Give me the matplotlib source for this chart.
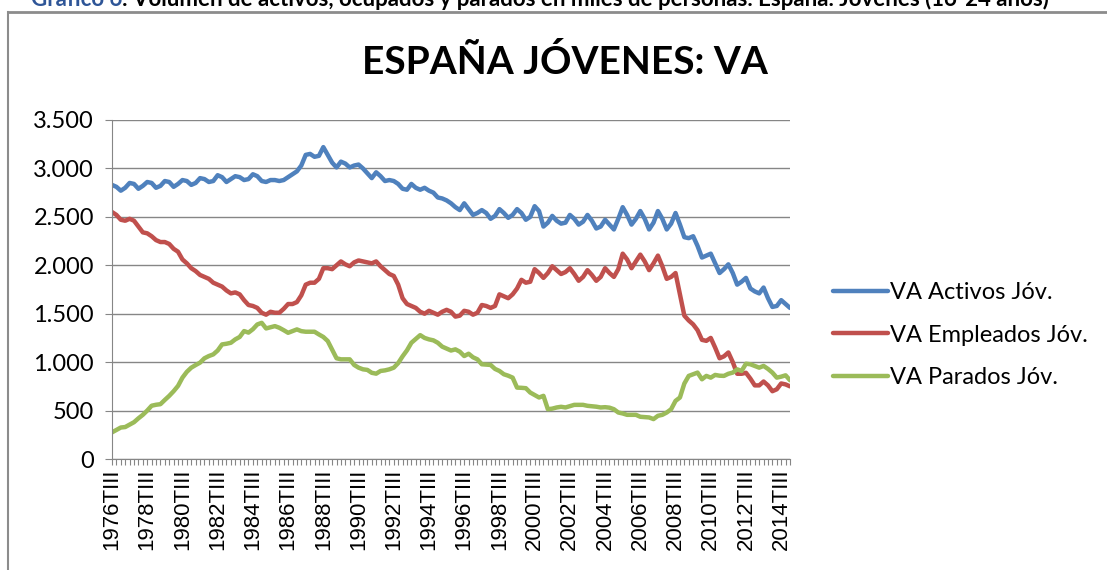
import matplotlib.pyplot as plt
from matplotlib.ticker import FuncFormatter
from matplotlib.lines import Line2D


# quarterly series, 1976TIII .. 2015TI (thousands of people)
activos = [
    2830, 2810, 2770, 2800, 2850, 2840, 2790, 2820, 2860, 2850, 2800, 2820,
    2870, 2860, 2810, 2840, 2880, 2870, 2830, 2850, 2900, 2890, 2860, 2870,
    2930, 2910, 2860, 2890, 2920, 2910, 2880, 2890, 2940, 2920, 2870, 2860,
    2880, 2880, 2870, 2880, 2910, 2940, 2970, 3030, 3140, 3150, 3120, 3130,
    3220, 3140, 3060, 3010, 3070, 3050, 3010, 3030, 3040, 3000, 2950, 2900,
    2960, 2920, 2870, 2880, 2870, 2840, 2790, 2780, 2840, 2800, 2780, 2800,
    2770, 2750, 2700, 2690, 2670, 2640, 2600, 2570, 2640, 2580, 2520, 2540,
    2570, 2540, 2480, 2510, 2580, 2540, 2490, 2520, 2580, 2540, 2470, 2500,
    2610, 2560, 2400, 2440, 2510, 2460, 2430, 2440, 2520, 2480, 2420, 2450,
    2520, 2460, 2380, 2400, 2470, 2420, 2370, 2480, 2600, 2520, 2420, 2480,
    2560, 2480, 2370, 2440, 2560, 2480, 2370, 2430, 2540, 2420, 2290, 2280,
    2300, 2200, 2080, 2100, 2120, 2020, 1920, 1960, 2010, 1920, 1800, 1830,
    1870, 1760, 1730, 1710, 1770, 1660, 1570, 1580, 1640, 1600, 1560,
]

empleados = [
    2550, 2520, 2470, 2460, 2480, 2460, 2400, 2340, 2330, 2300, 2260, 2240,
    2240, 2220, 2170, 2140, 2060, 2020, 1970, 1940, 1900, 1880, 1860, 1820,
    1800, 1780, 1740, 1710, 1720, 1700, 1640, 1590, 1580, 1560, 1510, 1490,
    1520, 1510, 1510, 1550, 1600, 1600, 1620, 1690, 1800, 1820, 1820, 1860,
    1970, 1970, 1960, 2000, 2040, 2010, 1990, 2030, 2050, 2040, 2030, 2020,
    2040, 1990, 1950, 1910, 1890, 1800, 1660, 1600, 1580, 1560, 1520, 1500,
    1530, 1510, 1490, 1520, 1540, 1520, 1470, 1480, 1530, 1520, 1490, 1510,
    1590, 1580, 1560, 1580, 1700, 1680, 1660, 1700, 1760, 1850, 1820, 1830,
    1960, 1920, 1870, 1920, 1990, 1950, 1910, 1930, 1970, 1910, 1840, 1880,
    1950, 1900, 1840, 1880, 1970, 1920, 1880, 1960, 2120, 2060, 1970, 2040,
    2110, 2040, 1950, 2020, 2100, 1990, 1860, 1880, 1920, 1700, 1480, 1430,
    1390, 1330, 1230, 1220, 1250, 1150, 1040, 1060, 1100, 1000, 880, 880,
    890, 830, 760, 760, 800, 760, 700, 720, 780, 770, 750,
]

parados = [
    275, 300, 325, 330, 355, 380, 420, 456, 500, 550, 560, 566,
    610, 652, 700, 755, 840, 900, 943, 970, 995, 1040, 1063, 1080,
    1120, 1183, 1190, 1200, 1235, 1260, 1321, 1305, 1340, 1389, 1406, 1348,
    1360, 1372, 1355, 1330, 1303, 1320, 1338, 1320, 1314, 1314, 1314, 1286,
    1260, 1218, 1130, 1040, 1029, 1029, 1029, 971, 943, 926, 920, 890,
    881, 909, 915, 926, 943, 990, 1060, 1122, 1200, 1240, 1279, 1250,
    1235, 1225, 1200, 1160, 1140, 1120, 1132, 1108, 1063, 1087, 1050, 1029,
    978, 975, 971, 930, 909, 875, 860, 840, 737, 735, 731, 686,
    660, 635, 652, 514, 520, 532, 539, 532, 545, 559, 559, 559,
    549, 545, 540, 532, 535, 530, 514, 480, 470, 456, 456, 456,
    436, 432, 429, 412, 446, 456, 480, 514, 600, 635, 779, 858,
    875, 892, 823, 858, 840, 868, 860, 858, 880, 892, 926, 909,
    984, 978, 960, 943, 961, 930, 892, 840, 850, 864, 813,
]

tick_labels = [
    "1976TIII", "1978TIII", "1980TIII", "1982TIII", "1984TIII",
    "1986TIII", "1988TIII", "1990TIII", "1992TIII", "1994TIII",
    "1996TIII", "1998TIII", "2000TIII", "2002TIII", "2004TIII",
    "2006TIII", "2008TIII", "2010TIII", "2012TIII", "2014TIII",
]

series_names = ["VA Activos Jóv.", "VA Empleados Jóv.", "VA Parados Jóv."]
colors = ["#4F81BD", "#C0504D", "#9BBB59"]


W, H = 1107, 570
fig = plt.figure(figsize=(W / 100, H / 100), dpi=100)
ax = fig.add_axes([112 / W, 1 - 459 / H, (790 - 112) / W, (459 - 120) / H])

x = list(range(len(activos)))
for vals, name, col in zip([activos, empleados, parados], series_names, colors):
    ax.plot(x, vals, color=col, lw=3.2, label=name,
            solid_joinstyle="round", solid_capstyle="round")

ax.set_xlim(0, len(activos) - 1)
ax.set_ylim(0, 3500)
ax.set_yticks(range(0, 3501, 500))
ax.yaxis.set_major_formatter(FuncFormatter(lambda v, p: f"{int(v):,}".replace(",", ".")))
ax.grid(axis="y", color="#868686", lw=1)
ax.set_axisbelow(True)

for s in ["top", "right"]:
    ax.spines[s].set_visible(False)
for s in ["left", "bottom"]:
    ax.spines[s].set_color("#868686")

labels = [""] * len(activos)
for k, t in enumerate(tick_labels):
    labels[8 * k] = t
ax.set_xticks(x)
ax.set_xticklabels(labels, rotation=90, fontfamily="Liberation Sans", fontsize=16)
ax.tick_params(axis="x", length=4, color="#868686", pad=3)
ax.tick_params(axis="y", length=5, color="#868686", pad=8, labelsize=17)
for lab in ax.get_yticklabels():
    lab.set_fontfamily("Lato")

fig.text(565 / W, 1 - 62 / H, "ESPAÑA JÓVENES: VA", ha="center", va="center",
         fontsize=28, fontweight="bold", fontfamily="Lato")

# caption above the chart, cut by the top edge as in the source
fig.text(122 / W, 1 - 6 / H, "Gráfico 6", color="#2E5597", ha="right",
         va="baseline", fontsize=16, fontweight="bold", fontfamily="Lato")
fig.text(122 / W, 1 - 6 / H,
         ": Volumen de activos, ocupados y parados en miles de personas. España. Jóvenes (16-24 años)",
         ha="left", va="baseline", fontsize=16, fontweight="bold", fontfamily="Lato")

# chart frame (left and top edges)
fig.add_artist(Line2D([8 / W, 8 / W], [0, 1 - 12 / H], color="#8c8c8c", lw=1.5))
fig.add_artist(Line2D([8 / W, 1], [1 - 12 / H, 1 - 12 / H], color="#8c8c8c", lw=2))

fig.legend(loc="center left", bbox_to_anchor=(812 / W, 1 - 335 / H), frameon=False,
           prop={"family": "Lato", "size": 17}, handlelength=2.3,
           handletextpad=0.12, labelspacing=0.92)

fig.savefig("out.png", dpi=100)
